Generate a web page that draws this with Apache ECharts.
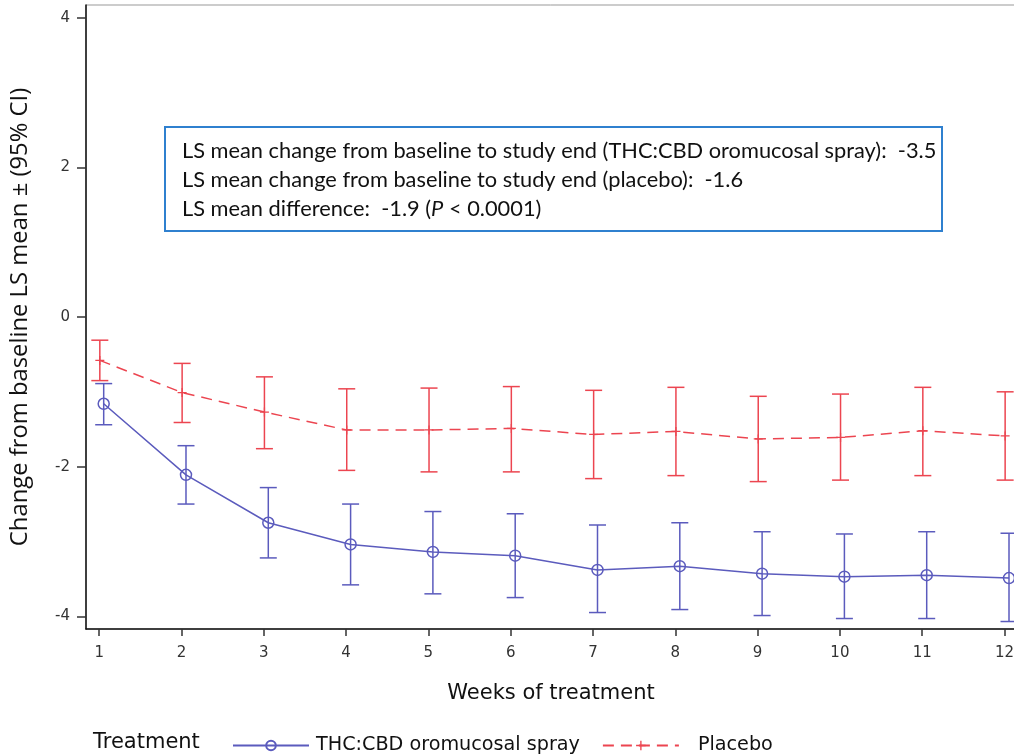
<!DOCTYPE html>
<html>
<head>
<meta charset="utf-8">
<script src="https://cdn.jsdelivr.net/npm/echarts@6/dist/echarts.min.js"></script>
<style>
html,body{margin:0;padding:0;background:#fff;}
#chart{width:1014px;height:754px;}
</style>
</head>
<body>
<div id="chart"></div>
<script>
// ---- data ----
const weeks = [1,2,3,4,5,6,7,8,9,10,11,12];
const yTicks = [-4,-2,0,2,4];
const thcMean  = [-1.16,-2.11,-2.75,-3.04,-3.14,-3.19,-3.38,-3.33,-3.43,-3.47,-3.45,-3.49];
const thcLower = [-1.44,-2.50,-3.22,-3.58,-3.70,-3.75,-3.95,-3.91,-3.99,-4.03,-4.03,-4.07];
const thcUpper = [-0.89,-1.72,-2.28,-2.50,-2.60,-2.63,-2.78,-2.75,-2.87,-2.90,-2.87,-2.89];
const plaMean  = [-0.58,-1.01,-1.27,-1.51,-1.51,-1.49,-1.57,-1.53,-1.63,-1.61,-1.52,-1.59];
const plaLower = [-0.85,-1.41,-1.76,-2.05,-2.07,-2.07,-2.16,-2.12,-2.20,-2.18,-2.12,-2.18];
const plaUpper = [-0.31,-0.62,-0.80,-0.96,-0.95,-0.93,-0.98,-0.94,-1.06,-1.03,-0.94,-1.00];
const seriesNames = ['THC:CBD oromucosal spray','Placebo'];
const legendTitle = 'Treatment';
const xTitle = 'Weeks of treatment';
const yTitle = 'Change from baseline LS mean \u00b1 (95% CI)';
const noteLines = [
  'LS mean change from baseline to study end (THC:CBD oromucosal spray):  -3.5',
  'LS mean change from baseline to study end (placebo):  -1.6'
];
const noteDiff = ['LS mean difference:  -1.9 (', 'P', ' < 0.0001)'];

// ---- styling ----
const BLUE = '#5b5bbd';
const RED = '#ec4550';
const thcDodge = 0.055;
const plaDodge = 0.008;

const thcPts = weeks.map((w,i)=>[w+thcDodge, thcMean[i]]);
const plaPts = weeks.map((w,i)=>[w+plaDodge, plaMean[i]]);
const thcErr = weeks.map((w,i)=>[w+thcDodge, thcLower[i], thcUpper[i]]);
const plaErr = weeks.map((w,i)=>[w+plaDodge, plaLower[i], plaUpper[i]]);

function errRender(color){
  return function(params, api){
    const x = api.value(0);
    const lo = api.coord([x, api.value(1)]);
    const hi = api.coord([x, api.value(2)]);
    const hw = 8.5;
    const st = {stroke: color, lineWidth: 1.5, fill: null};
    return {type:'group', children:[
      {type:'line', shape:{x1:lo[0],y1:lo[1],x2:hi[0],y2:hi[1]}, style:st},
      {type:'line', shape:{x1:lo[0]-hw,y1:lo[1],x2:lo[0]+hw,y2:lo[1]}, style:st},
      {type:'line', shape:{x1:hi[0]-hw,y1:hi[1],x2:hi[0]+hw,y2:hi[1]}, style:st}
    ]};
  };
}

const chart = echarts.init(document.getElementById('chart'), null, {renderer:'canvas'});
const option = {
  animation:false,
  backgroundColor:'#fff',
  grid:{left:86, top:5, width:930, height:624, show:true, borderColor:'#999', borderWidth:1,
        containLabel:false, outerBoundsMode:'none'},
  xAxis:{
    type:'value', min:0.84, max:12.14,
    axisLine:{show:true, onZero:false, lineStyle:{color:'#111', width:1.5}},
    axisTick:{show:true, customValues:weeks, length:7, lineStyle:{color:'#333', width:1.5}},
    axisLabel:{customValues:weeks, color:'#333', fontSize:15, fontFamily:'DejaVu Sans', margin:17},
    splitLine:{show:false},
    name:xTitle, nameLocation:'middle', nameGap:54,
    nameTextStyle:{color:'#111', fontSize:21, fontFamily:'DejaVu Sans'}
  },
  yAxis:{
    type:'value', min:-4.17, max:4.17,
    axisLine:{show:true, onZero:false, lineStyle:{color:'#111', width:1.5}},
    axisTick:{show:true, customValues:yTicks, length:9, lineStyle:{color:'#333', width:1.5}},
    axisLabel:{customValues:yTicks, color:'#333', fontSize:15, fontFamily:'DejaVu Sans', margin:16},
    splitLine:{show:false},
    name:yTitle, nameLocation:'middle', nameGap:54, nameRotate:90,
    nameTextStyle:{color:'#111', fontSize:23.8, fontFamily:'Open Sans'}
  },
  legend:{
    left:227, top:731, itemWidth:76, itemHeight:12, itemGap:22,
    textStyle:{color:'#111', fontSize:19.2, fontFamily:'DejaVu Sans'},
    data:[
      {name:seriesNames[0], textStyle:{padding:[0,0,0,2]}},
      {name:seriesNames[1], textStyle:{padding:[0,0,0,14]}}
    ]
  },
  series:[
    {name:seriesNames[0], type:'line', data:thcPts, symbol:'circle', symbolSize:11,
     itemStyle:{color:'transparent', borderColor:BLUE, borderWidth:1.5},
     lineStyle:{color:BLUE, width:1.5}, z:3},
    {name:seriesNames[1], type:'line', data:plaPts,
     symbol:'path://M4.3,0H5.7V4.3H10V5.7H5.7V10H4.3V5.7H0V4.3H4.3Z', symbolSize:9,
     itemStyle:{color:RED, borderWidth:0},
     lineStyle:{color:RED, width:1.5, type:[11,7]}, z:3},
    {name:'thcErr', type:'custom', data:thcErr, renderItem:errRender(BLUE), encode:{x:0,y:[1,2]}, z:2, silent:true},
    {name:'plaErr', type:'custom', data:plaErr, renderItem:errRender(RED), encode:{x:0,y:[1,2]}, z:2, silent:true}
  ],
  graphic:[
    {type:'text', left:93, top:732, style:{text:legendTitle, fill:'#111', fontSize:21, fontFamily:'DejaVu Sans'}},
    {type:'rect', shape:{x:165, y:127, width:777, height:104}, style:{fill:'#fff', stroke:'#2f80cf', lineWidth:2}, z:10},
    {type:'text', x:182, y:151, style:{text:noteLines[0], fill:'#111', fontSize:21.8, fontFamily:'Lato', verticalAlign:'middle'}, z:11},
    {type:'text', x:182, y:180, style:{text:noteLines[1], fill:'#111', fontSize:21.8, fontFamily:'Lato', verticalAlign:'middle'}, z:11},
    {type:'text', x:182, y:209, style:{
      text:'{n|'+noteDiff[0]+'}{i|'+noteDiff[1]+'}{n|'+noteDiff[2]+'}',
      verticalAlign:'middle',
      rich:{n:{fill:'#111', fontSize:21.8, fontFamily:'Lato'}, i:{fill:'#111', fontSize:21.8, fontFamily:'Lato', fontStyle:'italic'}}
    }, z:11}
  ]
};
chart.setOption(option);
</script>
</body>
</html>
